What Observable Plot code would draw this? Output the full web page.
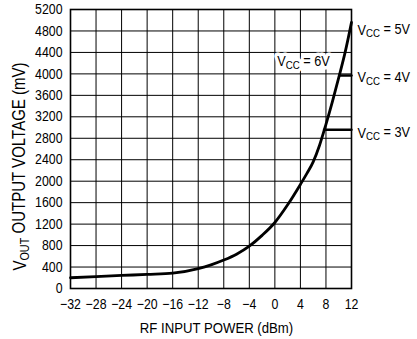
<!DOCTYPE html>
<html><head><meta charset="utf-8">
<script src="https://cdn.jsdelivr.net/npm/d3@7"></script>
<script src="https://cdn.jsdelivr.net/npm/@observablehq/plot@0.6"></script>
<style>
body{margin:0;background:#fff;}
#chart svg{font-family:"Liberation Sans Narrow","Arial Narrow","Liberation Sans",Arial,sans-serif;}
</style></head><body><div id="chart"></div>
<script>
// ---- data ----
const xTicks = [-32,-28,-24,-20,-16,-12,-8,-4,0,4,8,12];
const yTicks = [0,400,800,1200,1600,2000,2400,2800,3200,3600,4000,4400,4800,5200];
// main curve (VCC = 5V / 6V)
const mainPower = [-32,-28,-24,-20,-16,-12,-10,-8,-6,-4,-2,0,2,4,5,6,7,8,9,10,11,12];
const mainVout  = [200,222,243,263,285,370,440,530,640,790,990,1230,1560,1940,2140,2360,2670,3060,3480,3930,4400,4960];
// VCC = 4V saturation
const vcc4Power = [10.1,12];
const vcc4Vout  = [3970,3970];
// VCC = 3V saturation
const vcc3Power = [7.7,12];
const vcc3Vout  = [2960,2960];
// labels
const rightLabels = ["VCC = 5V","VCC = 4V","VCC = 3V"];
const rightLabelVout = [4820,3930,2900];
const innerLabel = ["VCC = 6V"];
const innerLabelPower = [8.6];
const innerLabelVout = [4230];
const xTitle = "RF INPUT POWER (dBm)";
const yTitle = ["V","OUT"," OUTPUT VOLTAGE (mV)"];

const main = mainPower.map((p,i)=>({p, v: mainVout[i]}));
const v4 = vcc4Power.map((p,i)=>({p, v: vcc4Vout[i]}));
const v3 = vcc3Power.map((p,i)=>({p, v: vcc3Vout[i]}));
const rl = rightLabels.map((t,i)=>({t, p: 12, v: rightLabelVout[i]}));
const il = innerLabel.map((t,i)=>({t, p: innerLabelPower[i], v: innerLabelVout[i]}));
const fmt = d3.format("d");

const plot = Plot.plot({
  width: 417, height: 339,
  marginLeft: 70, marginRight: 66, marginTop: 9, marginBottom: 51,
  style: {fontSize: "14.5px"},
  x: {domain: [-32, 12], label: null},
  y: {domain: [0, 5200], label: null},
  marks: [
    Plot.axisX({ticks: xTicks, tickSize: 0, tickPadding: 10, label: null, fontSize: 14.5, tickFormat: fmt}),
    Plot.axisY({ticks: yTicks, tickSize: 0, tickPadding: 8, label: null, fontSize: 14.5, tickFormat: fmt}),
    Plot.ruleX(xTicks, {stroke: "black", strokeWidth: 1}),
    Plot.ruleY(yTicks, {stroke: "black", strokeWidth: 1}),
    Plot.frame({stroke: "black", strokeWidth: 1.6}),
    Plot.line(main, {x: "p", y: "v", stroke: "black", strokeWidth: 2.8, curve: "monotone-x"}),
    Plot.line(v4, {x: "p", y: "v", stroke: "black", strokeWidth: 2.4}),
    Plot.line(v3, {x: "p", y: "v", stroke: "black", strokeWidth: 2.4}),
    Plot.text(rl, {x: "p", y: "v", text: "t", textAnchor: "start", dx: 6, fontSize: 15, fill: "black"}),
    Plot.text(il, {x: "p", y: "v", text: "t", textAnchor: "end", fontSize: 15, fill: "black", stroke: "white", strokeWidth: 7, paintOrder: "stroke"})
  ]
});
document.getElementById("chart").appendChild(plot);

const svg = d3.select(plot);
// subscripts for VCC labels
svg.selectAll("text").each(function(){
  const el = d3.select(this);
  const s = el.text();
  if (/^VCC = /.test(s)) {
    const rest = s.slice(3);
    el.text("");
    el.append("tspan").text("V");
    el.append("tspan").attr("font-size", "0.76em").attr("dy", "0.22em").text("CC");
    el.append("tspan").attr("dy", "-0.22em").text(rest);
  }
});
// axis titles
svg.append("text")
  .attr("transform", "translate(216.5,332.5)")
  .attr("text-anchor", "middle").attr("font-size", 15.5).attr("fill", "black")
  .text(xTitle);
const yt = svg.append("text")
  .attr("transform", "translate(26,166.5) rotate(-90)")
  .attr("text-anchor", "middle").attr("font-size", 17.7).attr("fill", "black");
yt.append("tspan").text(yTitle[0]);
yt.append("tspan").attr("font-size", "0.72em").attr("dy", "0.22em").text(yTitle[1]);
yt.append("tspan").attr("dy", "-0.22em").text(yTitle[2]);

// condensed look (reference uses a narrow Helvetica): squeeze every text horizontally
svg.selectAll("text").each(function(){
  const x = +this.getAttribute("x") || 0, y = +this.getAttribute("y") || 0;
  const t = this.getAttribute("transform") || "";
  this.setAttribute("transform", `${t} translate(${x},${y}) scale(0.85,1) translate(${-x},${-y})`);
});
</script>
</body></html>
